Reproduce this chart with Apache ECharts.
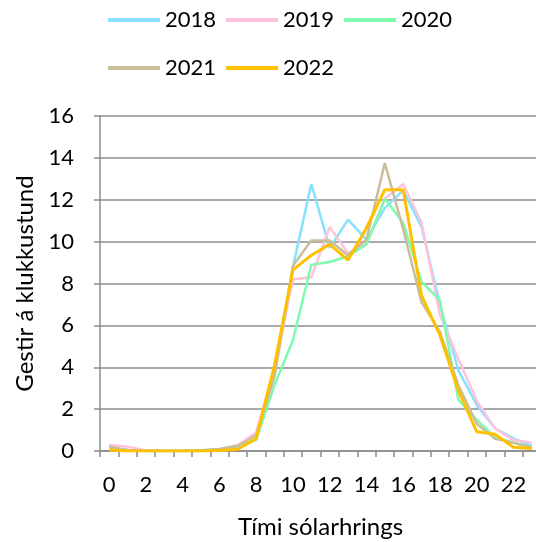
<!DOCTYPE html>
<html><head><meta charset="utf-8">
<script src="https://cdn.jsdelivr.net/npm/echarts@6/dist/echarts.min.js"></script>
<style>html,body{margin:0;padding:0;background:#fff}#c{width:536px;height:542px}</style>
</head><body><div id="c"></div>
<script>
const hours = ['0','1','2','3','4','5','6','7','8','9','10','11','12','13','14','15','16','17','18','19','20','21','22','23'];
const seriesNames = ['2018','2019','2020','2021','2022'];
const y2018 = [0.15,0.05,0,0,0,0.02,0.05,0.18,0.8,3.9,8.8,12.75,9.7,11.05,10.1,11.6,12.45,10.7,7.0,3.86,2.2,1.08,0.6,0.25];
const y2019 = [0.29,0.2,0.03,0,0,0.02,0.08,0.29,0.9,3.95,8.2,8.3,10.7,9.45,9.9,12.05,12.75,10.9,6.5,4.4,2.4,1.08,0.52,0.4];
const y2020 = [0.12,0.05,0,0,0,0.03,0.08,0.24,0.52,3.15,5.3,8.9,9.03,9.3,9.86,12.05,10.9,8.08,7.2,2.45,1.5,0.65,0.4,0.15];
const y2021 = [0.2,0.05,0,0,0,0.02,0.1,0.24,0.76,3.55,8.85,10.05,10.05,9.35,10.1,13.75,10.6,7.1,5.7,3.15,1.3,0.58,0.4,0.18];
const y2022 = [0.05,0,0,0,0,0,0.02,0.08,0.6,4.1,8.65,9.35,9.87,9.12,10.65,12.48,12.48,7.42,5.53,2.9,0.92,0.8,0.18,0.12];
const values = [y2018,y2019,y2020,y2021,y2022];
const colors = ['#87E1FF','#FFC3DD','#7FFAAE','#C9BE9A','#FFC000'];
const widths = [2.5,2.5,2.5,2.5,3];

const font = 'Lato, Open Sans, sans-serif';
const chart = echarts.init(document.getElementById('c'));
const legendCommon = {
  left: 103, itemWidth: 52, itemHeight: 4, itemGap: 10, icon: 'rect',
  textStyle: {fontSize: 22, fontFamily: font, color: '#000'}
};
chart.setOption({
  animation: false,
  color: colors,
  legend: [
    Object.assign({}, legendCommon, {top: 4, data: seriesNames.slice(0,3)}),
    Object.assign({}, legendCommon, {top: 52, data: seriesNames.slice(3)})
  ],
  grid: {left: 100, right: -5, top: 116, bottom: 91, containLabel: false, outerBoundsMode: 'none'},
  xAxis: {
    type: 'category', data: hours, boundaryGap: true,
    name: 'Tími sólarhrings', nameLocation: 'middle', nameGap: 64,
    nameTextStyle: {fontSize: 24, fontFamily: font, color: '#000'},
    axisLine: {lineStyle: {color: '#8c8c8c', width: 1.5}},
    axisTick: {show: true, interval: 0, length: 6, lineStyle: {color: '#8c8c8c', width: 1.5}},
    axisLabel: {interval: 1, fontSize: 22, fontFamily: font, color: '#000', margin: 23}
  },
  yAxis: {
    type: 'value', min: 0, max: 16, interval: 2,
    name: 'Gestir á klukkustund', nameLocation: 'middle', nameGap: 62,
    nameTextStyle: {fontSize: 24, fontFamily: font, color: '#000'},
    axisLine: {show: true, lineStyle: {color: '#8c8c8c', width: 1.5}},
    axisTick: {show: true, length: 6, lineStyle: {color: '#8c8c8c', width: 1.5}},
    axisLabel: {fontSize: 22, fontFamily: font, color: '#000', margin: 26},
    splitLine: {lineStyle: {color: '#8c8c8c', width: 1.5}}
  },
  series: seriesNames.map((n, i) => ({
    name: n, type: 'line', data: values[i], symbol: 'none',
    lineStyle: {width: widths[i], color: colors[i]}, z: 2 + i
  }))
});
</script></body></html>
